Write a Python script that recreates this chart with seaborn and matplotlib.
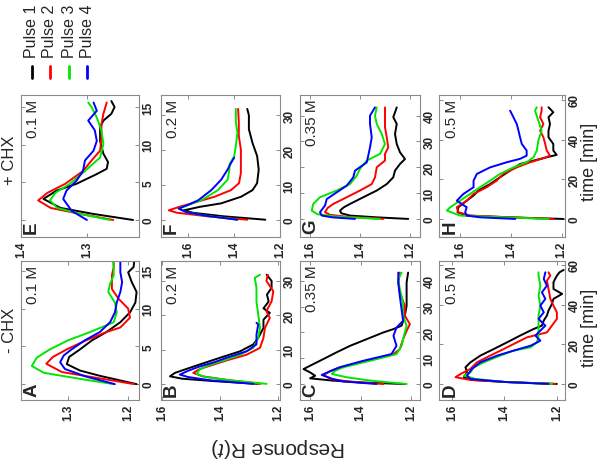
import matplotlib
matplotlib.use('Agg')
import pandas as pd
import matplotlib.pyplot as plt
import seaborn as sns
from matplotlib.lines import Line2D

# pulse names and colours
pulses = ['Pulse 1', 'Pulse 2', 'Pulse 3', 'Pulse 4']
pulse_colors = ['#000000', '#ff0000', '#00e600', '#0000ff']

# ---- -CHX, 0.1 M (A) ----
A1_t = [0, 1.1, 1.8, 2.65, 3.6, 4.6, 5.8, 6.9, 8.2, 9.5, 10.8, 12.2, 13.5, 14.8, 15.5, 16.2]
A1_r = [1.186, 1.247, 1.28, 1.302, 1.298, 1.28, 1.26, 1.236, 1.213, 1.197, 1.188, 1.186, 1.194, 1.2, 1.191, 1.19]
A2_t = [0, 0.8, 1.6, 2.7, 3.6, 4.6, 5.8, 6.9, 7.5, 8.8, 10, 11.3, 12.6, 14.4, 15.5, 16.2]
A2_r = [1.19, 1.25, 1.31, 1.336, 1.325, 1.302, 1.27, 1.236, 1.213, 1.197, 1.2, 1.216, 1.227, 1.227, 1.224, 1.224]
A3_t = [0, 0.7, 1.5, 2.4, 3.5, 4.6, 5.8, 6.9, 8.2, 9.5, 10.8, 12.2, 13.3, 14.4, 15.5, 16.2]
A3_r = [1.224, 1.28, 1.34, 1.36, 1.352, 1.33, 1.3, 1.263, 1.224, 1.219, 1.222, 1.233, 1.23, 1.224, 1.224, 1.225]
A4_t = [0, 1.0, 2.0, 2.9, 3.8, 4.6, 5.8, 6.9, 8.2, 9.5, 10.8, 12.2, 13.5, 14.8, 16.2]
A4_r = [1.222, 1.27, 1.305, 1.313, 1.307, 1.294, 1.272, 1.247, 1.23, 1.222, 1.219, 1.213, 1.21, 1.213, 1.213]

# ---- -CHX, 0.2 M (B) ----
B1_t = [0, 0.8, 1.5, 2.2, 3.2, 4.7, 6.2, 7.6, 9.5, 11.5, 13.4, 16.3, 18.7, 20.7, 22, 24, 26, 28, 30, 31.8]
B1_r = [1.27, 1.42, 1.53, 1.572, 1.555, 1.503, 1.45, 1.40, 1.33, 1.285, 1.268, 1.25, 1.25, 1.228, 1.25, 1.232, 1.238, 1.222, 1.222, 1.239]
B2_t = [0, 1.2, 2.2, 3.2, 4.3, 5.6, 7, 8.5, 10.5, 13.4, 16.3, 19.2, 21.2, 24, 27, 30, 31.8]
B2_r = [1.26, 1.38, 1.46, 1.492, 1.47, 1.423, 1.37, 1.308, 1.262, 1.25, 1.245, 1.228, 1.24, 1.222, 1.216, 1.24, 1.235]
B3_t = [0, 1.0, 2.0, 2.9, 4.2, 5.6, 7, 8.5, 10.5, 13.4, 16.3, 20.2, 24, 28, 30.9, 31.8]
B3_r = [1.239, 1.36, 1.45, 1.48, 1.47, 1.434, 1.38, 1.33, 1.285, 1.268, 1.262, 1.268, 1.274, 1.274, 1.28, 1.262]
B4_t = [0, 1.0, 2.0, 2.7, 3.8, 5.1, 6.3, 7.6, 9.5, 11.5, 14.4, 17.3, 17.8]
B4_r = [1.285, 1.43, 1.51, 1.538, 1.51, 1.469, 1.42, 1.377, 1.308, 1.274, 1.274, 1.268, 1.274]

# ---- -CHX, 0.35 M (C) ----
C1_t = [0, 0.6, 1.3, 2.2, 3.2, 4.5, 5.8, 7.1, 9.7, 12.3, 14.8, 17.4, 20, 21.3, 22.6, 26.5, 30.3, 35.5, 39.4, 43.2]
C1_r = [1.225, 1.40, 1.508, 1.60, 1.58, 1.60, 1.626, 1.60, 1.547, 1.495, 1.442, 1.376, 1.31, 1.27, 1.238, 1.225, 1.218, 1.218, 1.218, 1.212]
C2_t = [0, 1.0, 2.0, 3.5, 5.0, 6.5, 9, 11.6, 13.5, 17.4, 20.6, 23.2, 26.5, 30.3, 35.5, 39.4, 43.2]
C2_r = [1.31, 1.45, 1.52, 1.547, 1.52, 1.482, 1.376, 1.27, 1.245, 1.232, 1.218, 1.205, 1.225, 1.225, 1.245, 1.251, 1.245]
C3_t = [0, 1.3, 2.6, 3.9, 5.2, 6.5, 9, 11.6, 14.8, 20, 22.6, 26.5, 31.6, 36.8, 40.6, 43.2]
C3_r = [1.218, 1.36, 1.455, 1.514, 1.50, 1.468, 1.363, 1.258, 1.238, 1.225, 1.218, 1.232, 1.232, 1.245, 1.251, 1.238]
C4_t = [0, 1.0, 1.9, 3.5, 5.0, 6.5, 9, 11.6, 14.8, 18.7, 21.9, 24.5, 29, 34.2, 39.4, 43.2]
C4_r = [1.337, 1.47, 1.508, 1.554, 1.52, 1.482, 1.39, 1.278, 1.258, 1.27, 1.258, 1.232, 1.238, 1.245, 1.251, 1.251]

# ---- -CHX, 0.5 M (D) ----
D1_t = [0, 1.0, 2.0, 3.4, 5.9, 8.4, 10.9, 14.3, 17.6, 21, 24.4, 27.7, 29.4, 32, 34.5, 37, 40.3, 42.9, 45.4, 47.9, 51.3, 54.6, 56.3, 57.5]
D1_r = [1.20, 1.40, 1.52, 1.555, 1.543, 1.549, 1.53, 1.492, 1.441, 1.39, 1.34, 1.289, 1.257, 1.25, 1.238, 1.232, 1.219, 1.213, 1.18, 1.213, 1.213, 1.20, 1.19, 1.174]
D2_t = [0, 1.0, 2.0, 3.4, 5.0, 7.6, 10.9, 14.3, 17.6, 21, 23.5, 26, 29.4, 32.8, 36.1, 39.5, 42.9, 47.9, 52.1, 54.6, 56.3]
D2_r = [1.206, 1.40, 1.53, 1.587, 1.568, 1.53, 1.505, 1.454, 1.403, 1.352, 1.314, 1.238, 1.219, 1.20, 1.20, 1.213, 1.225, 1.232, 1.238, 1.225, 1.232]
D3_t = [0, 1.0, 2.5, 4.2, 5.9, 8.4, 10.9, 14.3, 16.8, 18.5, 21, 24.4, 29.4, 34.5, 39.5, 44.5, 49.6, 54.6, 56.3]
D3_r = [1.219, 1.40, 1.51, 1.555, 1.53, 1.517, 1.479, 1.416, 1.365, 1.30, 1.276, 1.27, 1.27, 1.27, 1.263, 1.27, 1.263, 1.27, 1.27]
D4_t = [0, 1.0, 2.5, 4.2, 7.6, 10.9, 14.3, 16.8, 19.3, 21.8, 24.4, 26.9, 29.4, 32.8, 36.1, 39.5, 42.9, 46.2, 49.6, 52.9, 56.3]
D4_r = [1.232, 1.40, 1.53, 1.543, 1.524, 1.492, 1.428, 1.365, 1.30, 1.263, 1.282, 1.263, 1.244, 1.27, 1.25, 1.263, 1.244, 1.257, 1.238, 1.25, 1.244]

# ---- +CHX, 0.1 M (E) ----
E1_t = [0, 0.8, 1.6, 2.8, 3.9, 4.8, 6.1, 6.8, 7.7, 8.8, 10.5, 12.3, 13.2, 14.1, 15, 15.8]
E1_r = [1.23, 1.29, 1.34, 1.366, 1.346, 1.316, 1.285, 1.27, 1.268, 1.275, 1.28, 1.28, 1.275, 1.263, 1.258, 1.263]
E2_t = [0, 0.8, 1.6, 2.6, 3.6, 4.8, 6.5, 7.9, 9.2, 11, 12.7, 14.1, 15.6]
E2_r = [1.26, 1.31, 1.355, 1.374, 1.36, 1.333, 1.306, 1.293, 1.28, 1.278, 1.278, 1.275, 1.27]
E3_t = [0, 0.8, 1.6, 2.6, 3.6, 4.8, 6.5, 8.3, 10.1, 11.9, 13.6, 15, 15.6]
E3_r = [1.265, 1.31, 1.345, 1.356, 1.348, 1.326, 1.303, 1.28, 1.275, 1.278, 1.285, 1.293, 1.298]
E4_t = [0, 1.2, 2.8, 3.9, 5.2, 6.5, 7.9, 9.2, 10.5, 11.9, 13.2, 14.5, 15.6]
E4_r = [1.30, 1.323, 1.336, 1.331, 1.316, 1.306, 1.303, 1.29, 1.285, 1.288, 1.298, 1.285, 1.29]

# ---- +CHX, 0.2 M (F) ----
F1_t = [0, 1.0, 2.0, 2.7, 3.7, 4.7, 6.6, 8.5, 10.5, 14.4, 18.3, 22, 26, 30, 31.8]
F1_r = [1.264, 1.45, 1.58, 1.62, 1.55, 1.457, 1.37, 1.32, 1.30, 1.293, 1.30, 1.32, 1.336, 1.336, 1.343]
F2_t = [0, 1.0, 2.0, 2.7, 3.7, 4.7, 6.6, 8.5, 10.5, 13.4, 17.3, 20.2, 24, 28, 31.8]
F2_r = [1.343, 1.52, 1.65, 1.686, 1.64, 1.586, 1.486, 1.414, 1.379, 1.371, 1.371, 1.371, 1.38, 1.38, 1.383]
F3_t = [0, 1.1, 2.2, 3.2, 4.3, 5.6, 8.5, 11.5, 14.4, 15.8, 18.3, 21.2, 25, 28, 31.8]
F3_r = [1.386, 1.52, 1.61, 1.643, 1.6, 1.543, 1.471, 1.429, 1.421, 1.421, 1.40, 1.393, 1.386, 1.393, 1.393]
F4_t = [0, 1.1, 2.2, 3.2, 4.3, 5.6, 8.5, 11.5, 14.4, 16.3, 17.8]
F4_r = [1.386, 1.52, 1.61, 1.643, 1.6, 1.557, 1.50, 1.457, 1.429, 1.414, 1.40]

# ---- +CHX, 0.35 M (G) ----
G1_t = [0, 0.6, 1.3, 2.2, 3.2, 4.5, 5.8, 8.4, 11, 13.5, 16.1, 18.7, 21.3, 23.2, 25.8, 29, 32.9, 36.8, 39.4, 43.2]
G1_r = [1.207, 1.33, 1.44, 1.475, 1.48, 1.465, 1.44, 1.387, 1.333, 1.293, 1.267, 1.26, 1.24, 1.22, 1.24, 1.253, 1.26, 1.253, 1.267, 1.253]
G2_t = [0, 0.8, 1.6, 2.6, 4.2, 5.8, 8.4, 11, 13.5, 16.1, 20, 22.6, 25.2, 27.7, 31.6, 35.5, 39.4, 43.2]
G2_r = [1.307, 1.45, 1.52, 1.54, 1.53, 1.507, 1.453, 1.40, 1.353, 1.34, 1.333, 1.30, 1.30, 1.287, 1.293, 1.30, 1.30, 1.30]
G3_t = [0, 0.8, 1.8, 3.2, 4.5, 5.8, 8.4, 11, 13.5, 16.8, 19.4, 22.6, 25.2, 29, 32.9, 36.8, 40, 43.2]
G3_r = [1.32, 1.48, 1.57, 1.593, 1.59, 1.587, 1.56, 1.493, 1.44, 1.413, 1.40, 1.373, 1.32, 1.30, 1.313, 1.333, 1.34, 1.333]
G4_t = [0, 0.6, 1.3, 2.6, 5.2, 7.7, 10.3, 12.9, 16.1, 18.7, 21.9, 24.5, 27.7, 31.6, 36.8, 40, 43.2]
G4_r = [1.42, 1.51, 1.553, 1.56, 1.54, 1.533, 1.493, 1.453, 1.427, 1.42, 1.373, 1.367, 1.36, 1.353, 1.36, 1.36, 1.34]

# ---- +CHX, 0.5 M (H) ----
H1_t = [0, 0.8, 1.7, 3.4, 5.9, 9.2, 11.8, 14.3, 17.6, 21, 24.4, 27.7, 29.4, 31.1, 32.3, 34.5, 37.8, 41.2, 44.5, 47.9, 51.3, 53.8, 56.3]
H1_r = [1.193, 1.40, 1.574, 1.61, 1.607, 1.574, 1.547, 1.528, 1.482, 1.443, 1.403, 1.364, 1.311, 1.259, 1.22, 1.233, 1.233, 1.252, 1.252, 1.246, 1.252, 1.233, 1.252]
H2_t = [0, 0.8, 1.7, 3.4, 5.9, 9.2, 12.6, 16, 19.3, 22.7, 26, 28.6, 30.3, 31.9, 34.5, 37.8, 41.2, 44.5, 47.9, 51.3, 54.6, 56.3]
H2_r = [1.233, 1.40, 1.56, 1.607, 1.613, 1.574, 1.547, 1.495, 1.456, 1.43, 1.377, 1.324, 1.279, 1.246, 1.259, 1.265, 1.272, 1.285, 1.272, 1.285, 1.279, 1.279]
H3_t = [0, 0.8, 1.7, 4.2, 5.9, 9.2, 12.6, 16, 19.3, 22.7, 26, 28.6, 31.1, 34.5, 39.5, 44.5, 49.6, 54.6, 56.3]
H3_r = [1.252, 1.42, 1.60, 1.652, 1.639, 1.60, 1.561, 1.521, 1.482, 1.443, 1.39, 1.338, 1.311, 1.298, 1.292, 1.279, 1.292, 1.305, 1.298]
H4_t = [0, 0.8, 1.7, 3.4, 5.9, 9.2, 12.6, 16, 19.3, 22.7, 26, 28.6, 30.3, 31.9, 34.5, 37.8, 41.2, 44.5, 47.9, 51.3, 54.6]
H4_r = [1.383, 1.52, 1.574, 1.58, 1.574, 1.613, 1.587, 1.547, 1.547, 1.534, 1.482, 1.416, 1.364, 1.338, 1.338, 1.357, 1.364, 1.37, 1.377, 1.39, 1.403]

# panel text
letters = ['A', 'B', 'C', 'D', 'E', 'F', 'G', 'H']
concentrations = ['0.1 M', '0.2 M', '0.35 M', '0.5 M'] * 2
time_ticks = [[0, 5, 10, 15], [0, 10, 20, 30], [0, 10, 20, 30, 40], [0, 20, 40, 60]] * 2
resp_ticks = [[1.2, 1.3], [1.2, 1.4, 1.6], [1.2, 1.4, 1.6], [1.2, 1.4, 1.6],
              [1.3, 1.4], [1.2, 1.4, 1.6], [1.2, 1.4, 1.6], [1.2, 1.4, 1.6]]

curves = {
    'A': [(A1_t, A1_r), (A2_t, A2_r), (A3_t, A3_r), (A4_t, A4_r)],
    'B': [(B1_t, B1_r), (B2_t, B2_r), (B3_t, B3_r), (B4_t, B4_r)],
    'C': [(C1_t, C1_r), (C2_t, C2_r), (C3_t, C3_r), (C4_t, C4_r)],
    'D': [(D1_t, D1_r), (D2_t, D2_r), (D3_t, D3_r), (D4_t, D4_r)],
    'E': [(E1_t, E1_r), (E2_t, E2_r), (E3_t, E3_r), (E4_t, E4_r)],
    'F': [(F1_t, F1_r), (F2_t, F2_r), (F3_t, F3_r), (F4_t, F4_r)],
    'G': [(G1_t, G1_r), (G2_t, G2_r), (G3_t, G3_r), (G4_t, G4_r)],
    'H': [(H1_t, H1_r), (H2_t, H2_r), (H3_t, H3_r), (H4_t, H4_r)],
}

# axis limits (response shown high->low from left to right, time runs upward)
resp_lims = {'A': (1.378, 1.182), 'B': (1.603, 1.193), 'C': (1.64, 1.165), 'D': (1.65, 1.169),
             'E': (1.40, 1.221), 'F': (1.72, 1.201), 'G': (1.64, 1.16), 'H': (1.683, 1.187)}
time_lims = {'A': (-2.1, 16.3), 'B': (-4.7, 35.8), 'C': (-6.2, 47.7), 'D': (-8.1, 62),
             'E': (-2.26, 16.6), 'F': (-4.96, 35.8), 'G': (-7, 48), 'H': (-9.1, 62.5)}

sns.set_style('white')
plt.rcParams['font.family'] = ['Liberation Sans', 'DejaVu Sans']
plt.rcParams['mathtext.fontset'] = 'custom'
plt.rcParams['mathtext.it'] = 'Liberation Sans:italic'
plt.rcParams['mathtext.rm'] = 'Liberation Sans'

W, H = 600, 460
fig = plt.figure(figsize=(6, 4.6), dpi=100)

# pixel boxes of the columns and rows
col_x = [(21, 139), (161, 280), (300, 420), (439, 565)]
row_y = {'bottom': (262, 401), 'top': (96, 238)}

for i, letter in enumerate(letters):
    col = i % 4
    row = 'bottom' if i < 4 else 'top'
    x0, x1 = col_x[col]
    y0, y1 = row_y[row]
    ax = fig.add_axes([x0 / W, 1 - y1 / H, (x1 - x0) / W, (y1 - y0) / H])

    rows = []
    for name, (t, r) in zip(pulses, curves[letter]):
        for tv, rv in zip(t, r):
            rows.append({'time': tv, 'R': rv, 'pulse': name})
    df = pd.DataFrame(rows)
    sns.lineplot(data=df, x='R', y='time', hue='pulse', hue_order=pulses,
                 palette=pulse_colors, orient='y', sort=False, estimator=None,
                 legend=False, linewidth=1.4, ax=ax)

    ax.set_xlim(*resp_lims[letter])
    ax.set_ylim(*time_lims[letter])
    ax.set_xlabel('')
    ax.set_ylabel('')
    ax.set_xticks(resp_ticks[i])
    ax.set_xticklabels([f'{v:.1f}' for v in resp_ticks[i]], rotation=90,
                       fontsize=8.5, fontweight='bold')
    ax.yaxis.tick_right()
    ax.set_yticks(time_ticks[i])
    ax.set_yticklabels([str(v) for v in time_ticks[i]], rotation=90,
                       fontsize=8.5, fontweight='bold', va='center')
    ax.tick_params(direction='in', length=3, width=0.6, color='#777777',
                   top=True, bottom=True, left=True, right=True, pad=2.5)
    for sp in ax.spines.values():
        sp.set_color('#8a8a8a')
        sp.set_linewidth(0.8)

    ax.text(0.09, 0.03, letter, transform=ax.transAxes, rotation=90,
            ha='center', va='bottom', fontsize=13.5, fontweight='bold')
    ax.text(0.10, 0.975, concentrations[i], transform=ax.transAxes, rotation=90,
            ha='center', va='top', fontsize=11)

# column titles, axis labels
fig.text(10 / W, 1 - 330 / H, '- CHX', rotation=90, ha='center', va='center', fontsize=12)
fig.text(10 / W, 1 - 160 / H, '+ CHX', rotation=90, ha='center', va='center', fontsize=12)
fig.text(590 / W, 1 - 162 / H, 'time [min]', rotation=90, ha='center', va='center', fontsize=13)
fig.text(590 / W, 1 - 328 / H, 'time [min]', rotation=90, ha='center', va='center', fontsize=13)
fig.text(278 / W, 1 - 448 / H, 'Response R($t$)', rotation=180, ha='center', va='center', fontsize=15)

# legend drawn by hand (rotated text), kept just inside the top edge
leg_x = [32, 50, 69, 87]
for name, color, lx in zip(pulses, pulse_colors, leg_x):
    fig.add_artist(Line2D([lx / W, lx / W], [1 - 79 / H, 1 - 67 / H],
                          transform=fig.transFigure, color=color, linewidth=2))
    fig.text(lx / W, 1 - 58 / H, name, rotation=90, ha='center', va='bottom', fontsize=11.5)

fig.savefig('out.png', dpi=100)
